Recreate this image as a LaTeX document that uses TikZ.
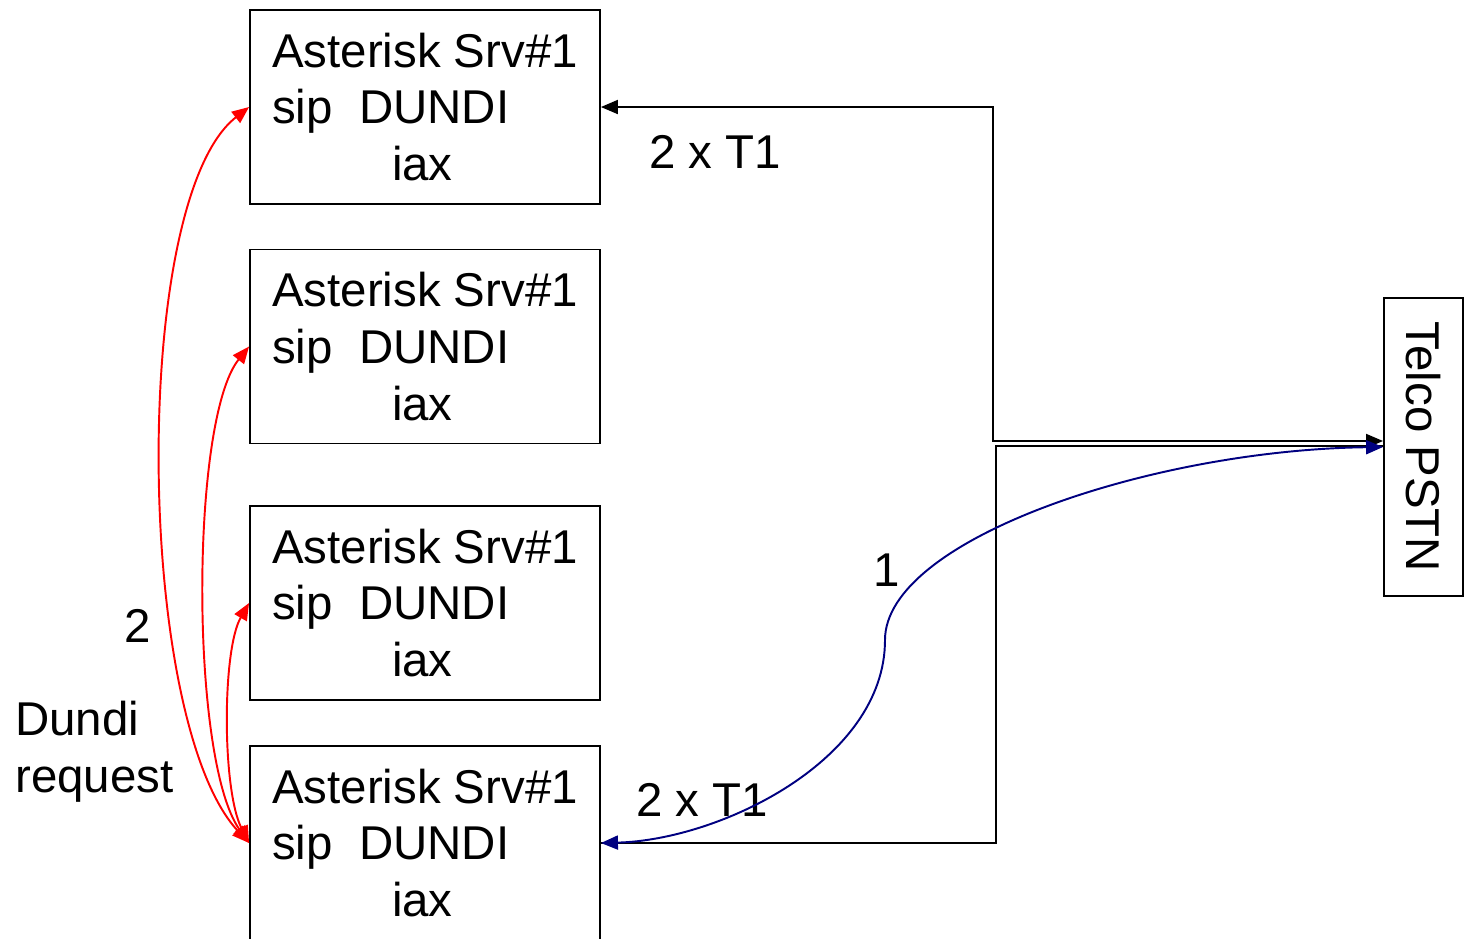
\documentclass[tikz,border=0pt]{standalone}
\usepackage{fontspec}
\setmainfont{Liberation Sans}
\usetikzlibrary{arrows.meta}

\definecolor{dundired}{RGB}{255,0,0}
\definecolor{trunkblue}{RGB}{0,0,128}

\newcommand{\slidefont}{\fontsize{27}{32.4}\selectfont}
\newcommand{\srvtext}{Asterisk Srv\#1\\sip\ \ DUNDI\\\hspace*{2.4cm}iax}

\tikzset{
  srvbox/.style={draw, line width=1.1pt, minimum width=7cm, minimum height=3.88cm,
    align=left, inner sep=0pt},
  pstnbox/.style={draw, line width=1.1pt, minimum width=1.58cm, minimum height=5.96cm,
    inner sep=0pt},
  trunk/.style={line width=1.1pt},
  dundi/.style={dundired, line width=1.1pt, {Triangle[length=0.34cm,width=0.28cm]}-{Triangle[length=0.34cm,width=0.28cm]}},
  route/.style={trunkblue, line width=1.1pt, {Triangle[length=0.34cm,width=0.28cm]}-{Triangle[length=0.34cm,width=0.28cm]}},
}

\begin{document}
\begin{tikzpicture}[x=0.02cm, y=-0.02cm, font=\slidefont]
    \useasboundingbox (0,0) rectangle (1465,938);

    % asterisk servers
    \node[srvbox] (srv1) at (425,107) {\srvtext};
    \node[srvbox] (srv2) at (425,346.5) {\srvtext};
    \node[srvbox] (srv3) at (425,603) {\srvtext};
    \node[srvbox] (srv4) at (425,843) {\srvtext};

    % telco side
    \node[pstnbox] (pstn) at (1423.5,447) {\rotatebox{-90}{Telco PSTN}};

    % T1 trunks
    \coordinate (j1) at (993,441);
    \coordinate (j2) at (996,446);
    \draw[trunk, {Triangle[length=0.34cm,width=0.28cm]}-{Triangle[length=0.34cm,width=0.28cm]}]
        (srv1.east) -| (j1) -- (j1 -| pstn.west);
    \draw[trunk] (srv4.east) -| (j2) -- (j2 -| pstn.west);
    \node (t1top) at (715,152) {2 x T1};
    \node (t1bot) at (702,800) {2 x T1};

    % call path out to the telco
    \draw[route] (srv4.east) .. controls (720,840) and (885,760) .. (885,640)
        .. controls (885,540) and (1150,450) .. (pstn.west);
    \node (hop1) at (887,570) {1};

    % dundi lookups
    \draw[dundi] (srv4.west) .. controls (135,720) and (130,200) .. (srv1.west);
    \draw[dundi] (srv4.west) .. controls (190,760) and (190,420) .. (srv2.west);
    \draw[dundi] (srv4.west) .. controls (222,790) and (222,650) .. (srv3.west);
    \node (hop2) at (138,626) {2};
    \node[align=left, anchor=west, inner sep=0pt] (dreq) at (15,752)
        {\fontsize{27}{35}\selectfont Dundi\\request};
\end{tikzpicture}
\end{document}
